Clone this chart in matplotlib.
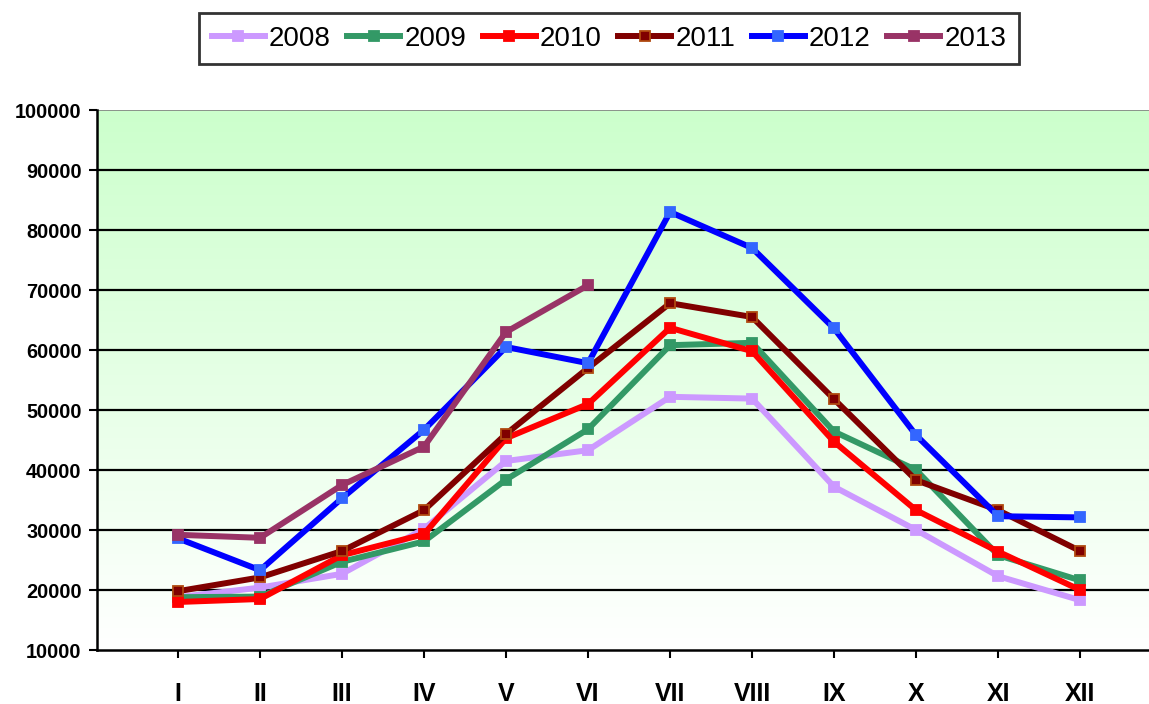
import numpy as np
import matplotlib
matplotlib.use("Agg")
import matplotlib.pyplot as plt
from matplotlib.colors import LinearSegmentedColormap

months = ["I", "II", "III", "IV", "V", "VI", "VII", "VIII", "IX", "X", "XI", "XII"]

y2008 = [18800, 20400, 22700, 30200, 41500, 43300, 52200, 51900, 37200, 30000, 22300, 18300]
y2009 = [18800, 18900, 24700, 28100, 38400, 46800, 60800, 61200, 46400, 40000, 25800, 21600]
y2010 = [18000, 18500, 25800, 29300, 45300, 51000, 63700, 59800, 44700, 33300, 26400, 20000]
y2011 = [19800, 22100, 26500, 33300, 46000, 57000, 67800, 65500, 51800, 38300, 33300, 26500]
y2012 = [28600, 23300, 35300, 46700, 60500, 57800, 83000, 77000, 63600, 45800, 32300, 32100]
y2013 = [29200, 28700, 37500, 43900, 63000, 70800]

series = [
    ("2008", y2008, "#cc99ff", "#cc99ff", "#cc99ff"),
    ("2009", y2009, "#339966", "#339966", "#339966"),
    ("2010", y2010, "#ff0000", "#ff0000", "#ff0000"),
    ("2011", y2011, "#800000", "#800000", "#b04a10"),
    ("2012", y2012, "#0000ff", "#3366ff", "#3366ff"),
    ("2013", y2013, "#993366", "#993366", "#993366"),
]

fig = plt.figure(figsize=(11.49, 7.04), dpi=100)
ax = fig.add_axes([97 / 1149, 54 / 704, 1 - 97 / 1149, 540 / 704])

# green-to-white vertical gradient behind the plot
grad = LinearSegmentedColormap.from_list("bg", ["#ffffff", "#ccffcc"])
ax.imshow(np.linspace(0, 1, 256).reshape(-1, 1), cmap=grad, origin="lower",
          aspect="auto", extent=[0, 1, 0, 1], transform=ax.transAxes, zorder=0)

x = np.arange(len(months))
for label, vals, color, mface, medge in series:
    ax.plot(x[:len(vals)], vals, color=color, lw=4.3, marker="s", ms=7,
            mfc=mface, mec=medge, mew=1.3, label=label, zorder=3,
            solid_joinstyle="miter")

ax.set_ylim(10000, 100000)
ax.set_yticks(range(10000, 100001, 10000))
ax.set_xlim(-0.988, 11.84)
ax.set_xticks(x)
ax.set_xticklabels(months)

for yv in range(20000, 100000, 10000):
    ax.axhline(yv, color="black", lw=1.6, zorder=1)

for s in ["top", "right"]:
    ax.spines[s].set_visible(False)
ax.spines["left"].set_linewidth(1.8)
ax.spines["bottom"].set_linewidth(1.8)
ax.axhline(100000, color="#808080", lw=1.2, zorder=1)

ax.tick_params(axis="y", length=6, width=1.5, pad=5)
ax.tick_params(axis="x", length=6, width=1.5, pad=17)
for t in ax.get_yticklabels():
    t.set_fontfamily("Liberation Sans")
    t.set_fontweight("bold")
    t.set_fontsize(14.3)
for t in ax.get_xticklabels():
    t.set_fontfamily("Liberation Sans")
    t.set_fontweight("bold")
    t.set_fontsize(18)

leg = fig.legend(loc="upper center", bbox_to_anchor=(609 / 1149, 1 - 13 / 704),
                 ncol=6, frameon=True, fancybox=False, shadow=False,
                 prop={"family": "Liberation Sans", "size": 20},
                 handlelength=1.9, handletextpad=0.15, columnspacing=0.6,
                 borderpad=0.45, borderaxespad=0)
leg.get_frame().set_edgecolor("black")
leg.get_frame().set_linewidth(2)

fig.savefig("out.png", dpi=100)
